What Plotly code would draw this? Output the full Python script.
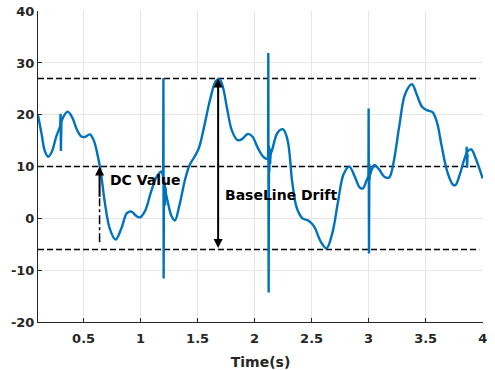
import plotly.graph_objects as go

# ---- data ----
sig_t = [0.100, 0.130, 0.160, 0.190, 0.220, 0.260, 0.290, 0.320, 0.360, 0.400, 0.440, 0.480,
         0.510, 0.555, 0.590, 0.620, 0.650, 0.690, 0.730, 0.780, 0.830, 0.880, 0.920, 0.960,
         0.995, 1.040, 1.090, 1.140, 1.180, 1.220, 1.240, 1.270, 1.300, 1.340, 1.390, 1.430,
         1.470, 1.510, 1.560, 1.610, 1.660, 1.690, 1.720, 1.760, 1.800, 1.850, 1.890, 1.940,
         1.980, 2.030, 2.080, 2.115, 2.150, 2.200, 2.250, 2.290, 2.330, 2.370, 2.420, 2.470,
         2.520, 2.580, 2.630, 2.680, 2.730, 2.780, 2.830, 2.880, 2.920, 2.950, 2.985, 3.030,
         3.050, 3.090, 3.140, 3.180, 3.220, 3.270, 3.320, 3.380, 3.420, 3.470, 3.510, 3.560,
         3.600, 3.640, 3.690, 3.740, 3.760, 3.800, 3.840, 3.870, 3.900, 3.940, 4.000]
sig_v = [19.9, 16.5, 13.0, 11.9, 12.8, 15.8, 17.5, 19.5, 20.6, 19.5, 17.2, 15.8,
         15.7, 16.2, 15.0, 12.5, 9.0, 2.5, -2.0, -4.1, -2.0, 1.0, 1.3, 0.5,
         0.2, 1.5, 5.0, 8.0, 9.0, 5.0, 3.0, 0.5, -0.4, 2.5, 7.5, 10.3,
         11.8, 13.5, 18.0, 23.0, 26.5, 26.9, 25.5, 21.0, 17.0, 15.1, 15.3, 16.3,
         15.8, 13.5, 11.8, 11.5, 13.0, 16.5, 17.2, 15.0, 7.0, 2.0, 0.0, -0.4,
         -1.5, -4.5, -5.8, -3.0, 3.0, 8.5, 10.0, 8.0, 6.0, 5.8, 7.5, 9.5,
         10.3, 9.5, 8.0, 7.9, 11.0, 18.0, 24.0, 25.9, 24.0, 21.5, 20.9, 20.5,
         18.5, 14.0, 9.0, 6.5, 6.4, 8.5, 11.5, 13.0, 13.3, 11.5, 7.7]

# artefact spikes (None separates each burst)
spike_t = [0.295, 0.298, 0.301, 0.305, None,
           1.180, 1.198, 1.200, 1.202, 1.205, 1.208, 1.211, 1.214, 1.218, 1.222, None,
           2.115, 2.118, 2.120, 2.123, 2.126, 2.129, 2.132, 2.136, 2.140, None,
           2.985, 2.998, 3.000, 3.003, 3.006, 3.009, 3.012, 3.016, 3.020, None,
           3.850, 3.857, 3.860, 3.863, 3.868]
spike_v = [17.5, 20.2, 13.0, 18.5, None,
           9.0, 9.0, 27.1, -11.6, 8.0, 3.0, 7.0, 2.5, 6.0, 5.0, None,
           11.5, 11.5, 31.9, -14.3, 14.0, 9.0, 13.5, 10.5, 12.5, None,
           7.5, 7.5, 21.2, -6.8, 10.5, 7.5, 10.0, 8.5, 9.5, None,
           12.0, 12.2, 13.8, 9.8, 12.5]

ref_levels = [27, 10, -6]
ref_x = [0.1, 3.97]

dc_x = 0.64
dc_from, dc_mid, dc_to = -4.6, 3.9, 10
drift_x = 1.68
drift_top, drift_bottom = 27, -6

x_ticks = [0.5, 1, 1.5, 2, 2.5, 3, 3.5, 4]
x_labels = ["0.5", "1", "1.5", "2", "2.5", "3", "3.5", "4"]
y_ticks = [-20, -10, 0, 10, 20, 30, 40]
y_labels = ["-20", "-10", "0", "10", "20", "30", "40"]

FONT = "DejaVu Sans"
BLUE = "#0072BD"
DARK = "#262626"

fig = go.Figure()

for lv in ref_levels:
    fig.add_trace(go.Scatter(x=ref_x, y=[lv, lv], mode="lines",
                             line=dict(color="black", width=1.5, dash="6px,3px"),
                             hoverinfo="skip", showlegend=False))

fig.add_trace(go.Scatter(x=sig_t, y=sig_v, mode="lines",
                         line=dict(color=BLUE, width=2.4, shape="spline", smoothing=1.0),
                         showlegend=False))
fig.add_trace(go.Scatter(x=spike_t, y=spike_v, mode="lines",
                         line=dict(color=BLUE, width=2.4), connectgaps=False,
                         showlegend=False))

# dash-dot part of DC arrow
fig.add_trace(go.Scatter(x=[dc_x, dc_x], y=[dc_from, dc_mid], mode="lines",
                         line=dict(color="black", width=1.5, dash="dashdot"),
                         showlegend=False))

# DC arrow
fig.add_annotation(x=dc_x, y=dc_to, ax=dc_x, ay=dc_mid, xref="x", yref="y",
                   axref="x", ayref="y", text="", showarrow=True,
                   arrowhead=2, arrowsize=0.9, arrowwidth=2, arrowcolor="black")
# Baseline drift double arrow
fig.add_annotation(x=drift_x, y=drift_top, ax=drift_x, ay=drift_bottom, xref="x", yref="y",
                   axref="x", ayref="y", text="", showarrow=True,
                   arrowhead=2, startarrowhead=2, arrowside="end+start",
                   arrowsize=0.9, startarrowsize=0.9, arrowwidth=2, arrowcolor="black")

fig.add_annotation(x=0.71, y=7.5, xref="x", yref="y", text="DC Value", showarrow=False,
                   xanchor="left", yanchor="middle",
                   font=dict(family=FONT, size=14, color="black", weight="bold"))
fig.add_annotation(x=1.72, y=4.6, xref="x", yref="y", text="BaseLine Drift", showarrow=False,
                   xanchor="left", yanchor="middle",
                   font=dict(family=FONT, size=14, color="black", weight="bold"))

axis_common = dict(showgrid=True, gridcolor="#e6e6e6", gridwidth=1,
                   showline=True, linecolor=DARK, linewidth=1,
                   ticks="inside", ticklen=4, tickcolor=DARK, zeroline=False,
                   automargin=False,
                   tickfont=dict(family=FONT, size=13, color=DARK, weight="bold"))

fig.update_xaxes(range=[0.1, 4.003], tickvals=x_ticks, ticktext=x_labels,
                 ticklabelstandoff=4,
                 title=dict(text="Time(s)", standoff=12,
                            font=dict(family=FONT, size=14, color=DARK, weight="bold")),
                 **axis_common)
fig.update_yaxes(range=[-20, 40.03], tickvals=y_ticks, ticktext=y_labels, **axis_common)

fig.update_layout(width=495, height=370,
                  margin=dict(l=38, r=12, t=11, b=48),
                  paper_bgcolor="white", plot_bgcolor="white",
                  showlegend=False)

fig.write_html("out.html", config={"displayModeBar": False},
               post_script="document.body.style.margin='0';document.body.style.padding='0';")
